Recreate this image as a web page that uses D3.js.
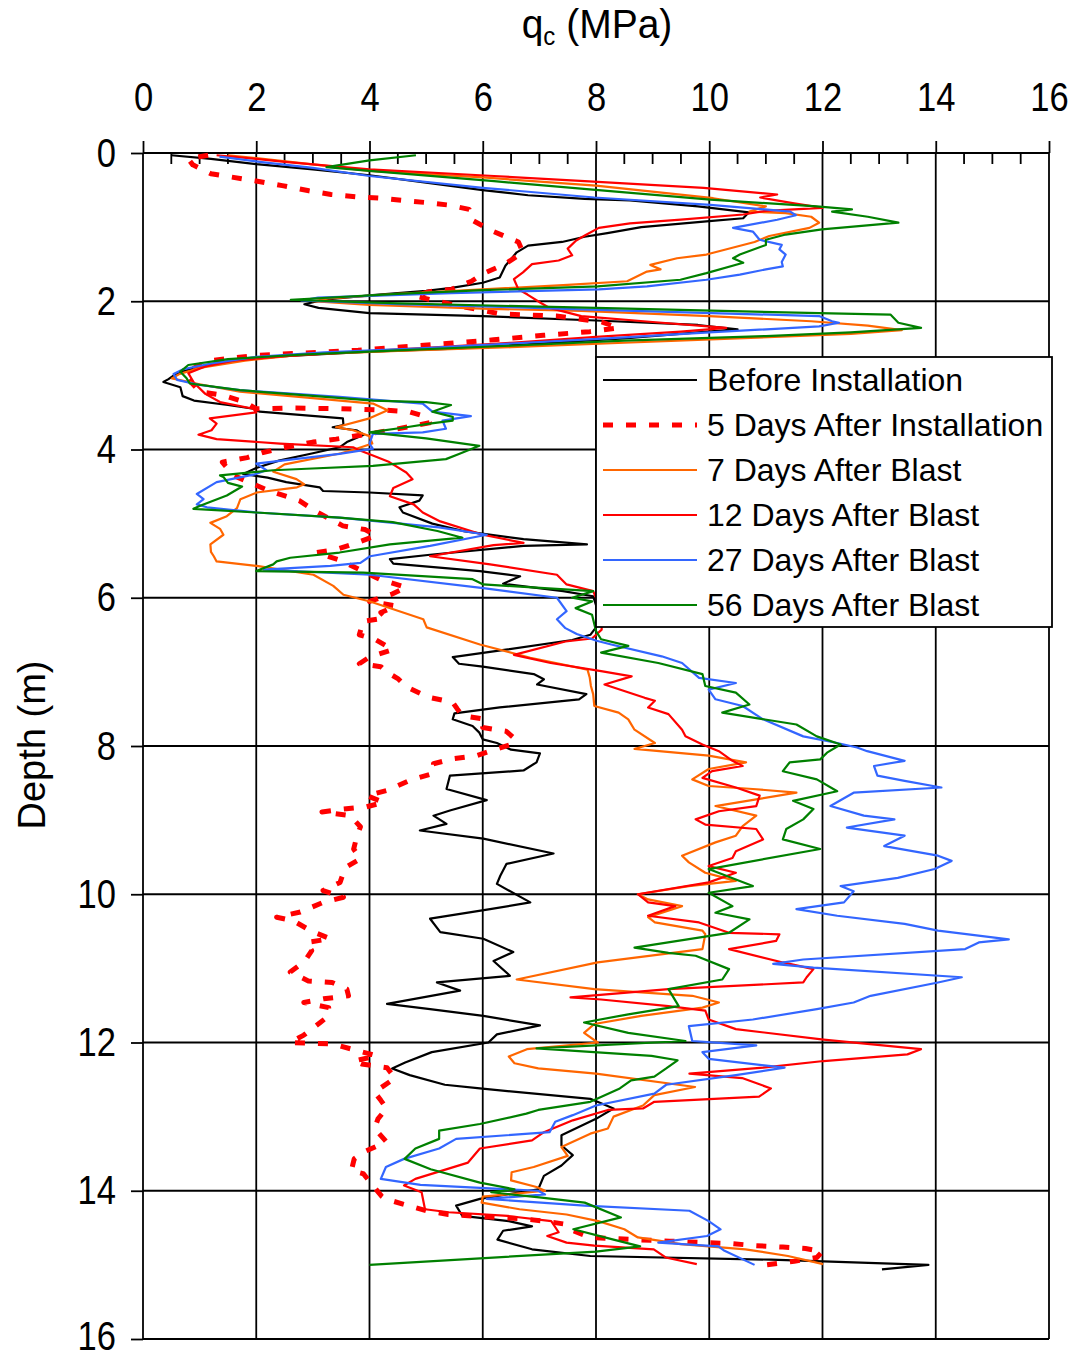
<!DOCTYPE html>
<html>
<head>
<meta charset="utf-8">
<script src="https://cdn.jsdelivr.net/npm/d3@7"></script>
<style>
  html, body { margin: 0; padding: 0; background: #fff; }
  svg { display: block; }
  text { font-family: "Liberation Sans", Arial, sans-serif; fill: #000; }
</style>
</head>
<body>
<svg id="chart" width="1080" height="1358"></svg>
<script>
// CPT cone resistance profiles: each point is [depth (m), qc (MPa)]
const xTicks = [0, 2, 4, 6, 8, 10, 12, 14, 16];
const yTicks = [0, 2, 4, 6, 8, 10, 12, 14, 16];

const beforeInstallation = [
  [0.03,0.5],[0.08,1.2],[0.15,2.0],[0.22,3.0],[0.3,4.0],[0.4,5.0],[0.5,6.0],[0.57,6.8],[0.62,7.8],[0.64,8.6],
  [0.72,9.8],[0.8,10.7],[0.88,10.6],[0.92,10.0],[1.0,8.8],[1.08,8.2],[1.13,7.8],[1.2,7.4],[1.25,6.8],[1.34,6.6],
  [1.52,6.4],[1.68,6.3],[1.75,6.0],[1.82,5.45],[1.86,5.0],[1.92,4.0],[1.98,3.2],[2.04,2.85],[2.09,3.1],[2.16,4.0],
  [2.2,6.0],[2.26,8.0],[2.32,9.8],[2.38,10.5],[2.42,9.8],[2.5,8.5],[2.57,7.0],[2.64,5.5],[2.68,4.0],[2.74,2.5],
  [2.8,1.6],[2.88,1.0],[2.97,0.6],[3.05,0.45],[3.09,0.36],[3.16,0.66],[3.28,0.7],[3.34,0.9],[3.4,1.5],[3.45,1.95],
  [3.49,2.06],[3.58,3.53],[3.67,3.54],[3.7,3.35],[3.74,3.77],[3.8,3.9],[3.9,3.6],[3.97,3.47],[4.05,3.0],[4.15,2.4],
  [4.25,2.0],[4.33,1.77],[4.38,2.2],[4.44,2.53],[4.51,3.12],[4.56,3.18],[4.58,4.0],[4.62,4.94],[4.69,4.88],[4.78,4.53],
  [4.85,4.59],[5.0,5.11],[5.1,5.66],[5.21,6.72],[5.28,7.84],[5.3,6.72],[5.42,5.07],[5.48,4.36],[5.54,4.42],[5.64,5.95],
  [5.71,6.66],[5.81,6.36],[5.91,7.42],[5.98,7.95],[6.1,8.0],[6.35,8.05],[6.5,7.9],[6.57,7.58],[6.7,6.41],[6.8,5.47],
  [6.89,5.58],[6.93,6.0],[7.03,6.9],[7.1,7.08],[7.17,6.96],[7.3,7.83],[7.37,7.7],[7.48,6.3],[7.56,5.5],[7.64,5.47],
  [7.73,5.82],[7.82,5.94],[7.91,6.0],[7.96,6.25],[8.05,6.5],[8.1,7.01],[8.22,6.95],[8.33,6.72],[8.4,5.42],[8.58,5.36],
  [8.73,6.07],[8.87,5.42],[8.94,5.13],[9.05,5.36],[9.14,4.89],[9.25,6.01],[9.45,7.25],[9.59,6.42],[9.75,6.31],[9.86,6.25],
  [10.11,6.84],[10.2,6.13],[10.33,5.07],[10.51,5.25],[10.6,6.01],[10.78,6.54],[10.9,6.19],[11.1,6.48],[11.19,5.19],[11.3,5.6],
  [11.48,4.31],[11.55,5.07],[11.64,6.01],[11.77,7.01],[11.89,6.25],[12.0,6.1],[12.13,5.1],[12.27,4.63],[12.35,4.4],[12.44,4.71],
  [12.57,5.33],[12.62,5.95],[12.76,7.9],[12.89,8.31],[13.03,8.0],[13.25,7.39],[13.39,7.39],[13.52,7.59],[13.66,7.39],[13.8,7.08],
  [13.98,6.98],[14.11,5.95],[14.2,5.53],[14.34,5.64],[14.41,6.46],[14.48,6.87],[14.54,6.36],[14.66,6.26],[14.79,6.87],[14.88,7.9],
  [14.93,11.09],[15.0,13.87],[15.06,13.05]
];

const fiveDaysAfterInstallation = [
  [0.03,1.15],[0.08,0.8],[0.16,0.88],[0.28,1.2],[0.38,2.02],[0.44,2.46],[0.51,2.93],[0.56,3.32],[0.59,3.76],[0.61,4.19],
  [0.64,4.58],[0.67,5.02],[0.7,5.37],[0.76,5.76],[0.9,5.8],[1.05,6.16],[1.2,6.63],[1.34,6.71],[1.5,6.39],[1.63,6.0],
  [1.73,5.8],[1.84,5.45],[1.87,5.06],[1.93,4.8],[2.05,5.5],[2.17,6.3],[2.2,7.3],[2.28,8.1],[2.36,8.4],[2.41,7.89],
  [2.46,7.07],[2.52,6.19],[2.57,5.36],[2.62,4.48],[2.66,3.8],[2.69,3.06],[2.73,2.0],[2.8,1.19],[2.92,0.85],[3.05,0.8],
  [3.22,1.0],[3.27,1.42],[3.36,1.8],[3.45,2.0],[3.44,2.6],[3.45,3.5],[3.47,4.3],[3.49,4.7],[3.56,5.0],[3.64,5.06],
  [3.75,4.3],[3.86,3.41],[3.9,3.0],[3.97,2.53],[4.04,2.12],[4.11,1.84],[4.17,1.4],[4.35,1.6],[4.55,2.2],[4.69,2.76],
  [4.84,3.06],[5.03,3.53],[5.08,3.92],[5.16,4.12],[5.26,3.77],[5.35,3.41],[5.39,3.06],[5.5,3.5],[5.62,3.82],[5.75,4.18],
  [5.86,4.65],[5.95,4.4],[6.05,4.0],[6.11,4.47],[6.2,4.2],[6.27,4.29],[6.32,3.88],[6.42,3.85],[6.5,3.82],[6.57,4.12],
  [6.65,4.3],[6.7,4.41],[6.8,4.0],[6.89,3.82],[6.93,4.2],[7.0,4.3],[7.09,4.5],[7.2,4.65],[7.34,5.03],[7.41,5.47],
  [7.5,5.55],[7.59,5.64],[7.64,6.05],[7.75,6.0],[7.8,6.41],[7.91,6.58],[7.98,6.5],[8.04,6.25],[8.13,5.89],[8.17,5.48],
  [8.24,5.13],[8.37,5.13],[8.46,4.72],[8.6,4.31],[8.67,3.95],[8.76,4.25],[8.82,3.95],[8.85,3.54],[8.89,3.16],[8.94,3.66],
  [9.09,3.84],[9.21,3.78],[9.39,3.72],[9.52,3.84],[9.64,3.57],[9.84,3.48],[9.95,3.18],[10.04,3.54],[10.11,3.18],[10.24,2.78],
  [10.31,2.36],[10.36,2.66],[10.5,2.98],[10.6,3.31],[10.65,2.89],[10.76,2.98],[10.9,2.86],[11.05,2.6],[11.17,2.92],[11.19,3.34],
  [11.28,3.6],[11.37,3.63],[11.41,3.19],[11.46,2.84],[11.53,3.28],[11.64,3.28],[11.73,3.13],[11.9,2.84],[12.0,2.6],[12.02,3.36],
  [12.11,3.78],[12.18,4.13],[12.25,3.72],[12.29,3.86],[12.34,4.31],[12.48,4.45],[12.67,4.09],[12.78,4.2],[12.89,4.3],[13.03,4.15],
  [13.16,4.09],[13.34,4.3],[13.48,3.89],[13.57,3.73],[13.73,3.68],[13.77,3.89],[14.07,4.21],[14.11,4.28],[14.18,4.59],[14.27,5.01],
  [14.32,5.39],[14.34,5.81],[14.36,6.23],[14.38,6.72],[14.41,7.1],[14.45,7.45],[14.54,7.6],[14.63,7.9],[14.66,8.7],[14.68,9.3],
  [14.7,9.9],[14.71,10.35],[14.74,10.8],[14.76,11.3],[14.78,11.7],[14.82,12.0],[14.9,11.9],[14.95,11.5],[15.0,11.0]
];

const sevenDaysAfterBlast = [
  [0.03,1.5],[0.07,2.0],[0.12,2.6],[0.17,3.2],[0.24,4.0],[0.33,6.0],[0.44,8.0],[0.61,10.07],[0.72,11.0],[0.79,10.71],
  [0.81,11.35],[0.86,11.8],[0.94,11.94],[1.01,11.77],[1.12,11.06],[1.2,10.8],[1.37,9.95],[1.42,9.43],[1.51,8.96],[1.57,9.14],
  [1.6,8.9],[1.73,8.55],[1.78,7.5],[1.84,6.0],[1.9,4.5],[1.96,3.3],[2.0,3.0],[2.05,4.0],[2.1,6.0],[2.13,7.74],
  [2.2,10.0],[2.27,11.8],[2.33,12.8],[2.39,13.4],[2.44,12.5],[2.5,10.5],[2.56,8.5],[2.62,6.5],[2.67,4.5],[2.72,2.8],
  [2.8,1.8],[2.9,1.0],[2.98,0.65],[3.04,0.51],[3.12,1.0],[3.22,1.71],[3.3,2.9],[3.38,4.06],[3.47,4.32],[3.58,4.0],
  [3.7,3.41],[3.74,3.71],[3.82,4.0],[3.92,4.05],[3.99,3.77],[4.05,3.5],[4.2,2.5],[4.3,2.3],[4.4,2.71],[4.47,2.85],
  [4.51,2.72],[4.58,2.01],[4.67,1.72],[4.79,1.66],[4.9,1.48],[4.99,1.19],[5.07,1.36],[5.15,1.42],[5.28,1.19],[5.38,1.2],
  [5.44,1.25],[5.51,1.3],[5.57,2.01],[5.69,3.01],[5.84,3.36],[5.96,3.54],[6.05,4.01],[6.29,4.95],[6.4,5.01],[6.63,5.95],
  [6.81,6.84],[6.97,7.85],[7.08,7.89],[7.19,7.91],[7.3,7.95],[7.46,7.97],[7.55,8.4],[7.64,8.57],[7.78,8.68],[7.96,9.04],
  [8.04,8.68],[8.13,9.99],[8.22,10.65],[8.31,9.99],[8.45,9.7],[8.54,9.99],[8.58,10.77],[8.63,11.54],[8.72,10.83],[8.81,10.11],
  [8.94,10.83],[9.08,10.59],[9.21,10.47],[9.3,10.11],[9.48,9.52],[9.57,9.64],[9.71,9.93],[9.82,10.47],[9.89,9.64],[10.0,8.74],
  [10.07,8.92],[10.16,9.52],[10.31,8.92],[10.38,9.04],[10.49,9.88],[10.54,9.93],[10.74,9.88],[10.92,8.03],[11.15,6.6],[11.28,7.97],
  [11.37,9.7],[11.46,10.17],[11.53,9.88],[11.64,8.8],[11.75,7.97],[11.87,7.79],[12.0,8.03],[12.09,6.78],[12.19,6.46],[12.28,6.56],
  [12.35,6.98],[12.42,8.0],[12.6,9.75],[12.71,9.03],[12.85,8.83],[13.0,8.31],[13.16,8.21],[13.23,7.9],[13.41,7.39],[13.53,7.5],
  [13.68,6.9],[13.75,6.51],[13.86,6.5],[13.95,6.95],[14.0,7.1],[14.08,6.0],[14.16,5.98],[14.25,6.65],[14.32,7.48],[14.41,8.04],
  [14.52,8.5],[14.63,8.74],[14.72,9.5],[14.79,10.64],[14.88,11.39],[14.99,12.01]
];

const twelveDaysAfterBlast = [
  [0.03,1.3],[0.08,2.0],[0.12,2.5],[0.22,4.0],[0.31,6.2],[0.38,7.8],[0.47,9.9],[0.56,11.2],[0.6,10.9],[0.68,11.5],
  [0.74,12.0],[0.78,11.0],[0.83,10.6],[0.9,9.5],[0.95,8.6],[1.01,8.05],[1.11,7.81],[1.18,7.65],[1.29,7.5],[1.38,7.58],
  [1.45,7.34],[1.5,6.87],[1.61,6.71],[1.7,6.55],[1.84,6.63],[1.91,6.79],[2.02,7.02],[2.09,7.18],[2.2,7.74],[2.28,9.0],
  [2.36,10.3],[2.41,9.5],[2.48,8.0],[2.56,6.5],[2.63,5.0],[2.68,3.8],[2.74,2.5],[2.8,1.6],[2.88,1.1],[2.97,0.8],
  [3.1,0.9],[3.25,1.1],[3.36,1.36],[3.45,1.95],[3.5,2.0],[3.58,1.18],[3.65,1.3],[3.74,1.21],[3.8,0.98],[3.86,1.3],
  [3.92,2.42],[3.97,3.71],[4.01,3.82],[4.08,4.06],[4.17,4.35],[4.31,4.65],[4.4,4.76],[4.52,4.42],[4.63,4.36],[4.74,4.78],
  [4.85,4.94],[4.97,5.25],[5.15,6.0],[5.26,6.72],[5.29,6.19],[5.44,5.07],[5.55,6.13],[5.69,7.31],[5.82,7.48],[5.91,7.95],
  [6.0,8.0],[6.25,8.1],[6.43,8.1],[6.55,7.93],[6.59,7.46],[6.77,6.55],[6.88,7.2],[6.99,8.09],[7.06,8.63],[7.17,8.15],
  [7.35,8.86],[7.39,9.04],[7.48,8.92],[7.57,9.28],[7.78,9.52],[7.87,9.58],[7.98,9.88],[8.07,10.17],[8.2,10.41],[8.27,10.59],
  [8.34,10.05],[8.43,9.88],[8.56,10.47],[8.67,10.89],[8.81,10.83],[8.88,10.17],[8.99,9.76],[9.06,9.93],[9.12,10.83],[9.26,10.95],
  [9.42,10.47],[9.51,10.41],[9.62,9.99],[9.71,10.47],[9.84,9.99],[10.0,8.74],[10.11,8.92],[10.16,9.4],[10.29,8.92],[10.38,9.82],
  [10.52,10.35],[10.54,11.24],[10.63,11.18],[10.74,10.35],[10.92,11.3],[11.01,11.84],[11.12,11.72],[11.19,11.66],[11.28,9.28],[11.39,7.55],
  [11.42,8.09],[11.51,9.28],[11.57,9.93],[11.69,9.99],[11.82,10.47],[11.96,12.02],[12.09,13.74],[12.16,13.5],[12.25,12.02],[12.34,10.95],
  [12.42,9.65],[12.48,10.58],[12.62,11.09],[12.73,10.88],[12.8,9.03],[12.89,8.83],[12.91,8.21],[13.05,7.59],[13.21,7.08],[13.32,6.87],
  [13.43,5.95],[13.62,5.74],[13.84,4.81],[13.93,4.61],[14.02,4.92],[14.25,4.98],[14.29,5.4],[14.34,6.44],[14.41,7.21],[14.56,7.34],
  [14.61,7.14],[14.7,7.48],[14.74,7.97],[14.79,9.02],[14.9,9.23],[14.99,9.78]
];

const twentySevenDaysAfterBlast = [
  [0.05,1.35],[0.12,2.06],[0.2,3.0],[0.31,4.0],[0.47,6.0],[0.6,7.97],[0.7,10.02],[0.79,11.43],[0.84,11.53],[0.9,11.2],
  [1.01,10.42],[1.06,10.77],[1.17,10.89],[1.24,11.28],[1.3,11.24],[1.37,11.35],[1.47,11.28],[1.53,11.3],[1.57,11.0],[1.64,10.54],
  [1.71,9.95],[1.8,8.9],[1.84,8.05],[1.89,5.45],[1.95,3.09],[1.99,2.8],[2.04,4.5],[2.08,6.5],[2.11,7.74],[2.2,11.94],
  [2.27,12.17],[2.29,12.29],[2.34,11.94],[2.42,10.0],[2.5,8.2],[2.57,6.5],[2.64,4.8],[2.69,3.2],[2.75,2.0],[2.84,1.2],
  [2.92,0.7],[2.98,0.54],[3.06,0.6],[3.13,1.0],[3.2,1.71],[3.29,3.47],[3.38,4.94],[3.49,5.11],[3.55,5.79],[3.61,5.29],
  [3.72,5.35],[3.77,4.94],[3.79,4.06],[3.92,4.0],[3.99,4.06],[4.06,3.47],[4.19,2.0],[4.28,2.18],[4.34,1.95],[4.44,1.3],
  [4.6,0.95],[4.67,1.07],[4.74,0.95],[4.78,1.13],[4.85,2.0],[4.92,3.47],[5.05,5.23],[5.15,6.07],[5.3,5.07],[5.44,4.01],
  [5.53,3.84],[5.57,3.31],[5.62,2.13],[5.69,4.01],[5.87,6.01],[6.0,7.31],[6.18,7.48],[6.29,7.31],[6.41,7.46],[6.49,7.66],
  [6.58,8.01],[6.63,8.27],[6.79,9.16],[6.88,9.52],[7.08,9.82],[7.15,10.47],[7.24,9.99],[7.37,10.11],[7.46,10.59],[7.64,10.95],
  [7.87,11.66],[7.96,12.26],[8.02,12.61],[8.07,12.79],[8.2,13.45],[8.27,12.91],[8.4,12.97],[8.47,13.45],[8.56,14.1],[8.63,12.55],
  [8.81,12.14],[8.94,12.73],[8.99,13.27],[9.1,12.43],[9.21,13.45],[9.35,13.09],[9.48,14.04],[9.55,14.28],[9.66,13.98],[9.78,13.33],
  [9.89,12.32],[9.96,12.55],[10.11,12.38],[10.2,11.54],[10.29,12.26],[10.4,13.45],[10.49,14.04],[10.61,15.29],[10.65,14.76],[10.74,14.52],
  [10.88,11.66],[10.94,11.13],[10.99,11.84],[11.12,14.46],[11.19,14.04],[11.37,12.85],[11.46,12.55],[11.55,11.9],[11.69,10.77],[11.78,9.64],
  [11.98,9.7],[12.04,10.83],[12.13,9.88],[12.22,9.99],[12.34,11.33],[12.44,10.47],[12.57,9.24],[12.69,9.03],[12.85,8.0],[12.98,7.59],
  [13.07,7.28],[13.21,7.18],[13.3,5.53],[13.43,5.23],[13.57,4.61],[13.68,4.29],[13.84,4.2],[13.92,4.9],[14.0,6.98],[14.05,7.1],
  [14.11,6.07],[14.2,7.8],[14.27,9.65],[14.41,9.99],[14.52,10.2],[14.61,9.96],[14.7,9.1],[14.75,10.16],[14.81,10.27],[15.0,10.8]
];

const fiftySixDaysAfterBlast = [
  [0.03,4.82],[0.1,4.0],[0.19,3.24],[0.24,4.0],[0.38,6.2],[0.51,8.2],[0.63,10.02],[0.72,11.9],[0.76,12.52],[0.79,12.17],
  [0.86,12.8],[0.94,13.34],[1.03,11.99],[1.1,11.35],[1.17,11.0],[1.24,11.0],[1.37,10.54],[1.42,10.42],[1.48,10.6],[1.62,9.95],
  [1.71,9.49],[1.8,8.03],[1.85,6.0],[1.9,4.5],[1.98,2.61],[2.03,4.5],[2.09,8.0],[2.16,11.94],[2.18,13.2],[2.29,13.34],
  [2.36,13.74],[2.42,12.5],[2.47,11.0],[2.53,8.5],[2.6,6.5],[2.66,4.6],[2.72,2.8],[2.78,1.5],[2.86,0.8],[2.95,0.66],
  [3.04,0.77],[3.11,0.83],[3.2,1.71],[3.27,2.89],[3.34,4.06],[3.36,5.0],[3.4,5.44],[3.49,5.11],[3.56,5.47],[3.61,5.47],
  [3.65,5.06],[3.7,4.65],[3.77,4.0],[3.85,5.0],[3.95,5.94],[4.06,5.58],[4.13,5.35],[4.22,4.06],[4.26,2.89],[4.28,2.3],
  [4.35,1.36],[4.37,1.42],[4.45,1.5],[4.5,1.75],[4.62,1.48],[4.76,1.01],[4.8,0.89],[4.85,2.0],[4.92,3.47],[4.98,4.41],
  [5.1,5.2],[5.19,5.64],[5.28,4.36],[5.39,3.47],[5.46,2.6],[5.51,2.36],[5.55,2.3],[5.64,2.0],[5.66,3.89],[5.75,5.82],
  [5.82,6.01],[5.91,7.95],[6.0,7.58],[6.05,7.93],[6.14,7.64],[6.23,7.93],[6.45,8.0],[6.56,8.09],[6.65,8.57],[6.74,8.09],
  [6.88,9.1],[7.03,9.88],[7.19,9.93],[7.28,10.47],[7.44,10.71],[7.55,10.23],[7.71,11.54],[7.87,11.9],[7.98,12.32],[8.09,12.08],
  [8.18,11.96],[8.22,11.42],[8.34,11.3],[8.45,11.9],[8.61,12.26],[8.74,11.48],[8.85,11.84],[8.99,11.66],[9.12,11.36],[9.26,11.3],
  [9.39,11.96],[9.66,9.99],[9.8,10.47],[9.89,10.77],[9.98,9.99],[10.16,10.41],[10.25,10.11],[10.34,10.71],[10.52,10.35],[10.72,8.68],
  [10.79,9.28],[10.83,9.76],[11.01,10.35],[11.15,10.23],[11.28,9.28],[11.51,9.46],[11.62,8.57],[11.73,7.79],[11.87,8.57],[11.98,9.58],
  [12.08,6.95],[12.18,8.98],[12.24,9.44],[12.35,9.24],[12.46,9.03],[12.51,8.62],[12.62,8.42],[12.8,7.9],[12.91,6.98],[12.96,6.77],
  [13.1,5.95],[13.19,5.23],[13.3,5.23],[13.43,4.81],[13.57,4.62],[13.71,5.08],[13.89,5.95],[13.98,6.56],[14.02,6.15],[14.09,7.0],
  [14.16,7.8],[14.36,8.44],[14.52,7.6],[14.66,8.31],[14.75,8.78],[14.82,8.0],[15.0,4.0]
];

const seriesNames = [
  "Before Installation",
  "5 Days After Installation",
  "7 Days After Blast",
  "12 Days After Blast",
  "27 Days After Blast",
  "56 Days After Blast"
];
const seriesColors = ["#000000", "#ff0000", "#ff6600", "#ff0000", "#3366ff", "#008000"];
const seriesData = [
  beforeInstallation, fiveDaysAfterInstallation, sevenDaysAfterBlast,
  twelveDaysAfterBlast, twentySevenDaysAfterBlast, fiftySixDaysAfterBlast
];

(function draw() {
  const svg = d3.select("#chart");
  const plotLeft = 143, plotRight = 1049, plotTop = 153, plotBottom = 1339;
  const fontFamily = "'Liberation Sans', Arial, sans-serif";
  const stretch = 1.12; // tick digits are slightly tall and narrow

  const x = d3.scaleLinear().domain([0, 16]).range([plotLeft, plotRight]);
  const y = d3.scaleLinear().domain([0, 16]).range([plotTop, plotBottom]);

  // grid lines every 2 units, also forming the frame
  const grid = svg.append("g").attr("stroke", "#000").attr("stroke-width", 1.8);
  xTicks.forEach(v => grid.append("line")
    .attr("x1", x(v)).attr("x2", x(v)).attr("y1", plotTop).attr("y2", plotBottom));
  yTicks.forEach(v => grid.append("line")
    .attr("x1", plotLeft).attr("x2", plotRight).attr("y1", y(v)).attr("y2", y(v)));

  // top axis, major ticks pointing outward
  const xAxis = d3.axisTop(x).tickValues(xTicks).tickSize(12).tickPadding(16).tickFormat(d3.format("d"));
  const gx = svg.append("g").attr("transform", `translate(0,${plotTop})`).call(xAxis);
  gx.select(".domain").remove();
  gx.selectAll(".tick line").attr("stroke", "#000").attr("stroke-width", 1.8);
  gx.selectAll(".tick text")
    .attr("font-size", 36).attr("fill", "#000").attr("font-family", fontFamily)
    .attr("y", 0).attr("dy", 0)
    .attr("transform", `translate(0,-42) scale(0.96,${stretch})`);

  // minor ticks inside the top edge
  const minor = d3.range(0, 16.01, 0.5).filter(v => v % 2 !== 0);
  svg.append("g").selectAll("line").data(minor).join("line")
    .attr("x1", d => x(d)).attr("x2", d => x(d))
    .attr("y1", plotTop).attr("y2", plotTop + 11)
    .attr("stroke", "#000").attr("stroke-width", 1.8);

  // left axis
  const yAxis = d3.axisLeft(y).tickValues(yTicks).tickSize(12).tickPadding(14).tickFormat(d3.format("d"));
  const gy = svg.append("g").attr("transform", `translate(${plotLeft},0)`).call(yAxis);
  gy.select(".domain").remove();
  gy.selectAll(".tick line").attr("stroke", "#000").attr("stroke-width", 1.8);
  gy.selectAll(".tick text")
    .attr("font-size", 36).attr("fill", "#000").attr("font-family", fontFamily)
    .attr("x", 0).attr("y", 0).attr("dy", 0)
    .attr("transform", d => `translate(-27,${d === 16 ? 10 : 13}) scale(0.96,${stretch})`);

  // depth profiles
  const line = d3.line().x(d => x(d[1])).y(d => y(d[0]));
  const plot = svg.append("g");
  seriesData.forEach((data, i) => {
    const p = plot.append("path")
      .datum(data)
      .attr("d", line)
      .attr("fill", "none")
      .attr("stroke", seriesColors[i])
      .attr("stroke-linejoin", "round");
    if (i === 1) p.attr("stroke-width", 5).attr("stroke-dasharray", "10,13");
    else p.attr("stroke-width", 2.2);
  });

  // axis titles
  const xt = svg.append("text")
    .attr("transform", "translate(597,38) scale(1,1.06)")
    .attr("text-anchor", "middle")
    .attr("font-size", 39);
  xt.append("tspan").text("q");
  xt.append("tspan").attr("font-size", 24).attr("dy", 7).text("c");
  xt.append("tspan").attr("dy", -7).text(" (MPa)");

  svg.append("text")
    .attr("transform", "translate(45,745) rotate(-90)")
    .attr("text-anchor", "middle")
    .attr("font-size", 38)
    .text("Depth (m)");

  // legend
  const lg = svg.append("g");
  lg.append("rect")
    .attr("x", 596).attr("y", 357).attr("width", 456).attr("height", 270)
    .attr("fill", "#fff").attr("stroke", "#000").attr("stroke-width", 1.8);
  seriesNames.forEach((name, i) => {
    const cy = 380 + i * 45;
    const l = lg.append("line")
      .attr("x1", 603).attr("x2", 697).attr("y1", cy).attr("y2", cy)
      .attr("stroke", seriesColors[i]);
    if (i === 1) l.attr("stroke-width", 5).attr("stroke-dasharray", "10,13");
    else l.attr("stroke-width", 2.2);
    lg.append("text")
      .attr("x", 707).attr("y", cy + 11)
      .attr("font-size", 32)
      .text(name);
  });
})();
</script>
</body>
</html>
